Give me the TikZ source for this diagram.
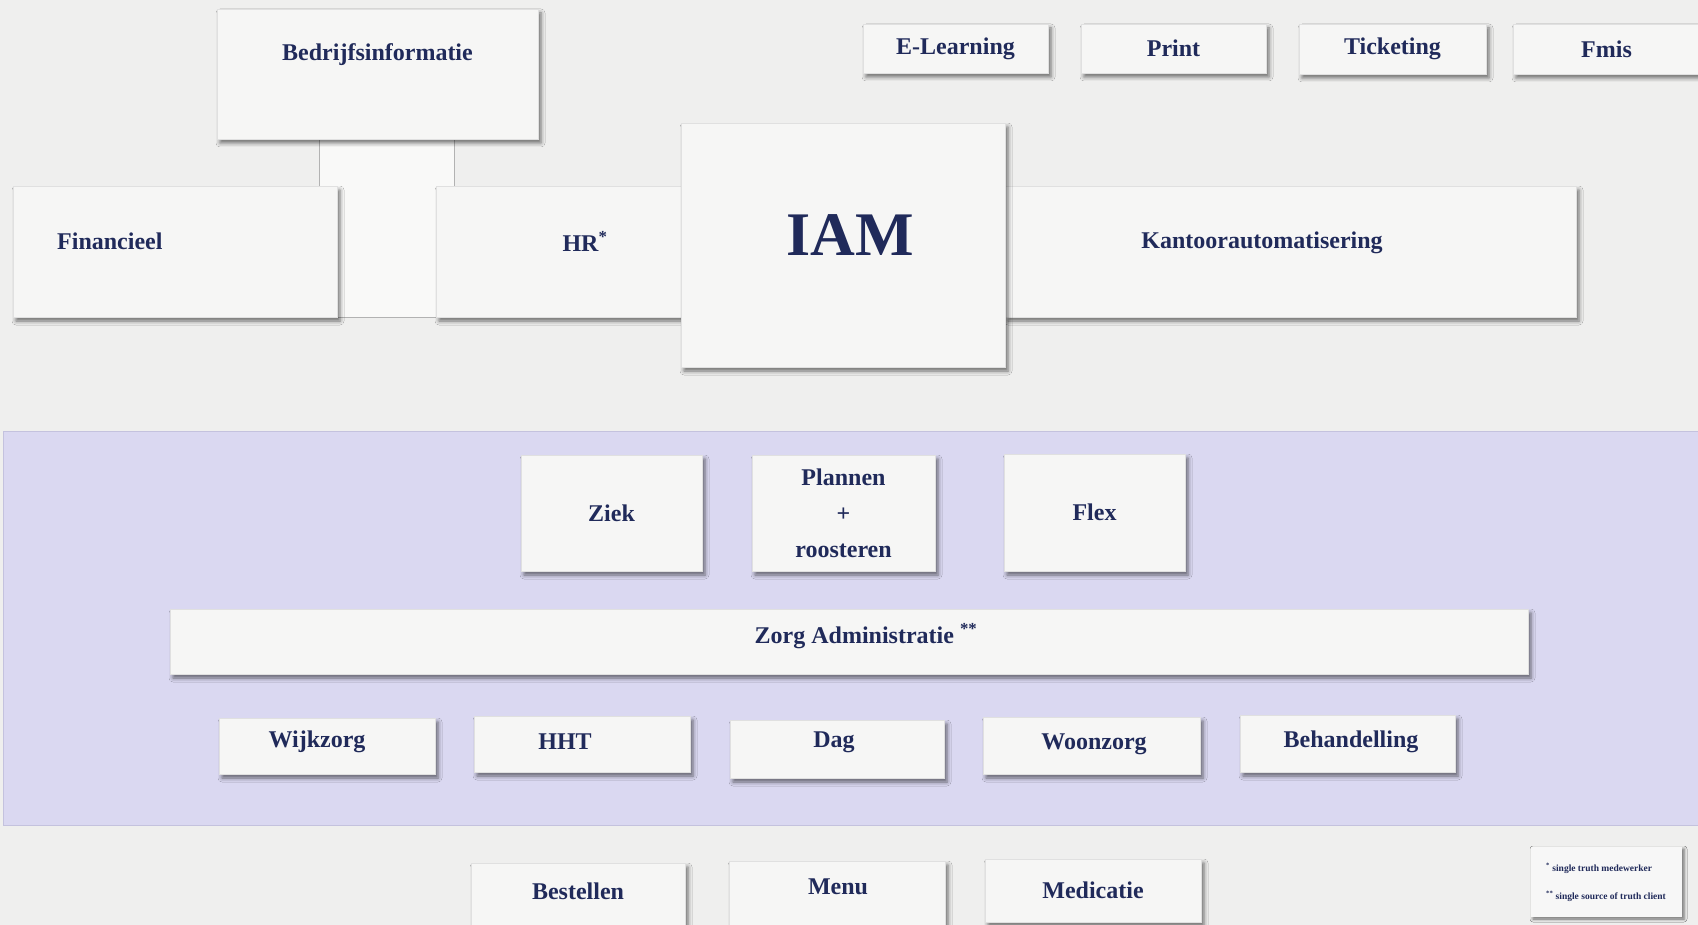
\documentclass[tikz,border=0pt]{standalone}
\usepackage{fontspec}
\setmainfont{Liberation Serif}
\usetikzlibrary{shadows,shadows.blur,calc}
\definecolor{bg}{HTML}{EFEFEE}
\definecolor{card}{HTML}{F6F6F5}
\definecolor{cardedge}{HTML}{E0E0E0}
\definecolor{band}{RGB}{218,216,241}
\definecolor{bandedge}{RGB}{196,194,222}
\definecolor{navy}{RGB}{32,42,90}
\tikzset{
  card/.style={rectangle, fill=card, draw=cardedge, line width=0.5pt,
    blur shadow={shadow xshift=3pt, shadow yshift=-4pt, shadow blur radius=4pt, shadow opacity=55},
    inner sep=0pt, text=navy, font=\bfseries\fontsize{24}{30}\selectfont, align=center},
  lbl/.style={text=navy, font=\bfseries\fontsize{24}{30}\selectfont, inner sep=0pt},
  strip/.style={rectangle, fill=card!70!white, draw=black!30, line width=0.8pt, inner sep=0pt},
  bandbox/.style={rectangle, fill=band, draw=bandedge, line width=1pt, inner sep=0pt},
}
\begin{document}
\begin{tikzpicture}[x=1pt,y=-1pt]
\fill[bg] (0,0) rectangle (1698,925);
\useasboundingbox (0,0) rectangle (1698,925);

% top row small cards
\node[card, minimum width=185pt, minimum height=49pt] (elearn) at (955.5,48.5) {E-Learning};
\node[card, minimum width=185pt, minimum height=49pt] (print) at (1173.5,48.5) {Print};
\node[card, minimum width=187pt, minimum height=50pt] (ticket) at (1392.5,49) {Ticketing};
\node[card, minimum width=187pt, minimum height=50pt] (fmis) at (1606.5,49) {Fmis};

% strip linking Bedrijfsinformatie to the row below
\node[strip, minimum width=135pt, minimum height=180pt] (link) at (386.5,227) {};

% Bedrijfsinformatie
\node[card, minimum width=321pt, minimum height=130pt] (bedr) at (377.5,74) {};
\node[lbl] (bedrt) at (377.5,55) {Bedrijfsinformatie};

% middle row
\node[card, minimum width=324pt, minimum height=131pt] (fin) at (175,251.5) {};
\node[lbl, anchor=west] (fint) at (57,241) {Financieel};
\node[card, minimum width=257pt, minimum height=131pt] (hr) at (564.5,251.5) {};
\node[lbl] (hrt) at (585,241) {HR\textsuperscript{*}};
\node[card, minimum width=571pt, minimum height=131pt] (kant) at (1290.5,251.5) {};
\node[lbl] (kantt) at (1262,243) {Kantoorautomatisering};
\node[card, minimum width=324pt, minimum height=244pt] (iam) at (843,245) {};
\node[lbl, font=\bfseries\fontsize{62}{70}\selectfont] (iamt) at (850,235) {IAM};

% purple band
\node[bandbox, minimum width=1697pt, minimum height=394pt] (band) at (851.5,628) {};

\node[card, minimum width=181pt, minimum height=116pt] (ziek) at (611.5,513) {Ziek};
\node[card, minimum width=183pt, minimum height=116pt, font=\bfseries\fontsize{24}{36}\selectfont] (plan) at (843.5,513) {Plannen\\+\\roosteren};
\node[card, minimum width=181pt, minimum height=117pt] (flex) at (1094.5,512.5) {Flex};

\node[card, minimum width=1358pt, minimum height=65pt] (zorg) at (849,641.5) {};
\node[lbl] (zorgt) at (866,636) {Zorg Administratie \textsuperscript{**}};

\node[card, minimum width=216pt, minimum height=56pt] (wijk) at (327,746) {};
\node[lbl] (wijkt) at (317,742) {Wijkzorg};
\node[card, minimum width=216pt, minimum height=56pt] (hht) at (582,744) {};
\node[lbl] (hhtt) at (565,742) {HHT};
\node[card, minimum width=214pt, minimum height=58pt] (dag) at (837,749) {};
\node[lbl] (dagt) at (834,742) {Dag};
\node[card, minimum width=217pt, minimum height=57pt] (woon) at (1091.5,745.5) {};
\node[lbl] (woont) at (1094,744) {Woonzorg};
\node[card, minimum width=215pt, minimum height=57pt] (beh) at (1347.5,743.5) {};
\node[lbl] (beht) at (1351,742) {Behandelling};

% bottom row
\node[card, minimum width=214pt, minimum height=66pt] (best) at (578,896) {};
\node[lbl] (bestt) at (578,891) {Bestellen};
\node[card, minimum width=216pt, minimum height=66pt] (menu) at (837,894) {};
\node[lbl] (menut) at (838,887) {Menu};
\node[card, minimum width=216pt, minimum height=63pt] (med) at (1093,890.5) {};
\node[lbl] (medt) at (1093,890) {Medicatie};

% legend
\node[card, minimum width=151pt, minimum height=70pt, draw=none, fill=white!97!black,
      blur shadow={shadow xshift=2pt, shadow yshift=-2pt, shadow blur radius=3pt, shadow opacity=30}] (leg) at (1606.5,882) {};
\node[lbl, font=\bfseries\fontsize{9.5}{28}\selectfont, align=left] (legt) at (1606,882)
  {\textsuperscript{*} single truth medewerker\\\textsuperscript{**} single source of truth client};
\end{tikzpicture}
\end{document}
